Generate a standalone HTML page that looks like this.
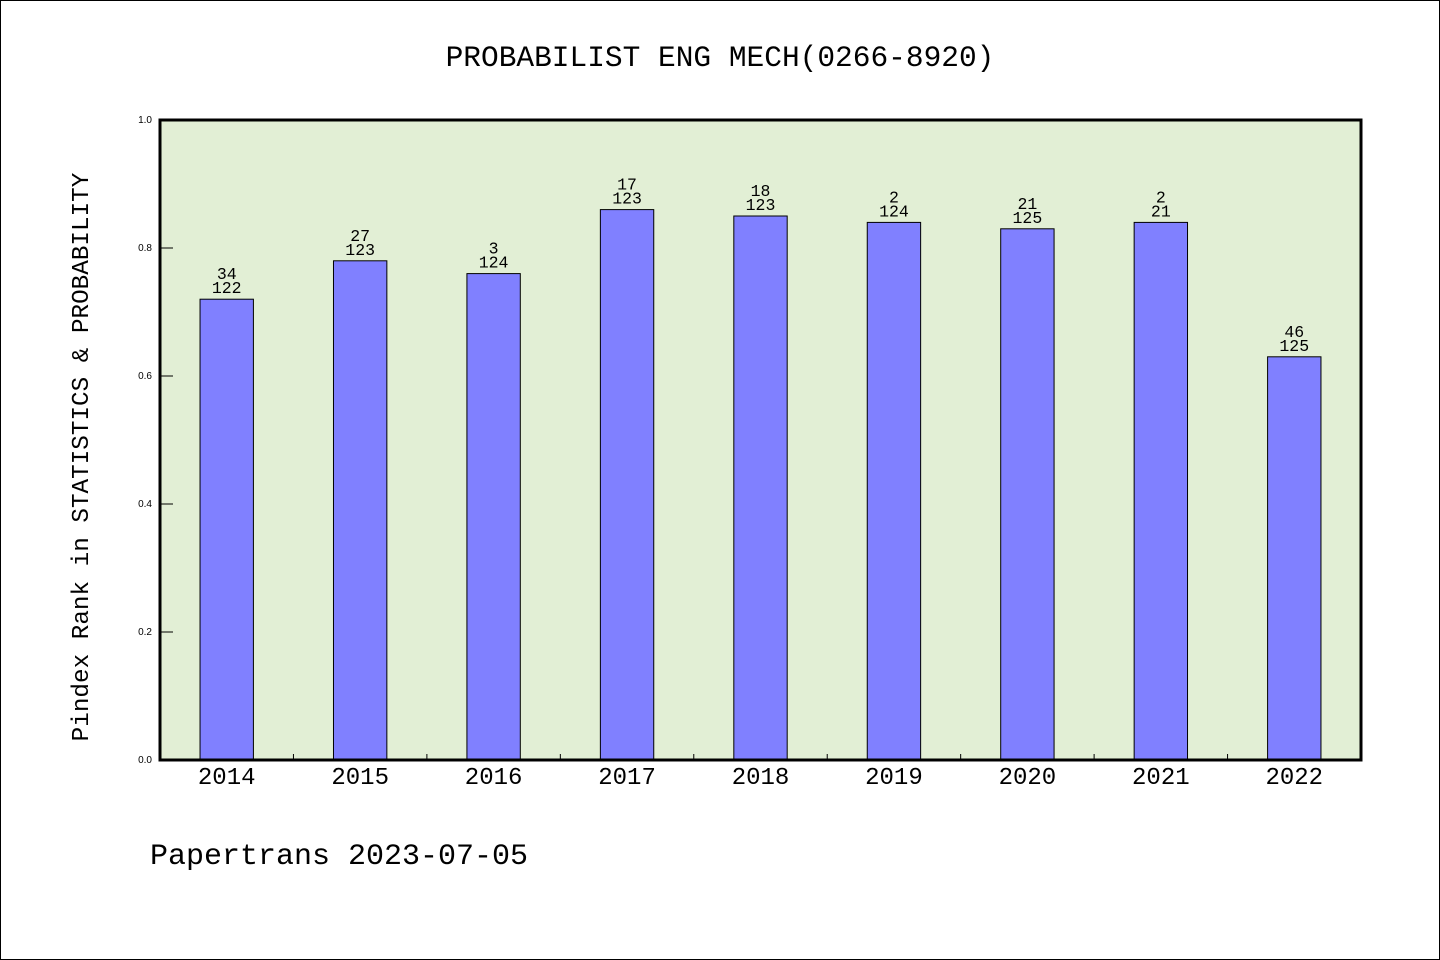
<!DOCTYPE html>
<html><head><meta charset="utf-8"><style>
html,body{margin:0;padding:0;background:#fff}
svg{display:block}
text{font-family:"Liberation Mono","WenQuanYi Zen Hei",monospace}
.sans{font-family:"Liberation Sans",sans-serif}
</style></head><body>
<svg id="chart" width="1440" height="960">
<rect x="0.5" y="0.5" width="1439" height="959" fill="#fff" stroke="#000"/>
<text x="720" y="66" text-anchor="middle" font-size="29.5">PROBABILIST ENG MECH(0266-8920)</text>
<rect x="160" y="120" width="1201" height="640" fill="#e2efd5"/>
<g id="bars"></g>
<g id="axes"></g>
<rect x="160" y="120" width="1201" height="640" fill="none" stroke="#000" stroke-width="3"/>
<text transform="translate(88,457) rotate(-90)" text-anchor="middle" font-size="24.3">Pindex Rank in STATISTICS &amp; PROBABILITY</text>
<text x="150" y="864" font-size="30">Papertrans 2023-07-05</text>
</svg>
<script>
const years=["2014","2015","2016","2017","2018","2019","2020","2021","2022"];
const values=[0.72,0.78,0.76,0.86,0.85,0.84,0.83,0.84,0.63];
const ranks=["34","27","3","17","18","2","21","2","46"];
const totals=["122","123","124","123","123","124","125","21","125"];
const yTicks=[0,0.2,0.4,0.6,0.8,1.0];
const yTickLabels=["0.0","0.2","0.4","0.6","0.8","1.0"];
const NS="http://www.w3.org/2000/svg";
const X0=160,W=1201,Y0=760,H=640;
const band=W/years.length;
function xs(i){return X0+band*(i+0.5);}
function ys(v){return Y0-v*H;}
function mk(t,a,p){const e=document.createElementNS(NS,t);for(const k in a)e.setAttribute(k,a[k]);p.appendChild(e);return e;}
const bars=document.getElementById('bars'),axes=document.getElementById('axes');
years.forEach((y,i)=>{
  const bw=band*0.4,cx=xs(i),top=ys(values[i]);
  const r=mk('rect',{x:cx-bw/2,y:top,width:bw,height:Y0-top,fill:'#8080ff',stroke:'#000','stroke-width':1},bars);
  
  
  const t1=mk('text',{x:cx,y:top-20,'text-anchor':'middle','font-size':16.5},bars);t1.textContent=ranks[i];
  
  
  const t2=mk('text',{x:cx,y:top-6,'text-anchor':'middle','font-size':16.5},bars);t2.textContent=totals[i];
  
  
  const xl=mk('text',{x:cx,y:784,'text-anchor':'middle','font-size':24},axes);xl.textContent=y;
  
  
  if(i>0){const tk=mk('line',{x1:X0+band*i,x2:X0+band*i,y1:Y0,y2:Y0-6,stroke:'#000'},axes);
  
  }
});
yTicks.forEach((v,i)=>{
  const y=ys(v);
  const tk=mk('line',{x1:X0,x2:X0+13,y1:y,y2:y,stroke:'#000'},axes);
  
  
  const l=mk('text',{x:152,y:y+3,'text-anchor':'end','font-size':10,'class':'sans'},axes);l.textContent=yTickLabels[i];
  
  
});
</script>
</body></html>
